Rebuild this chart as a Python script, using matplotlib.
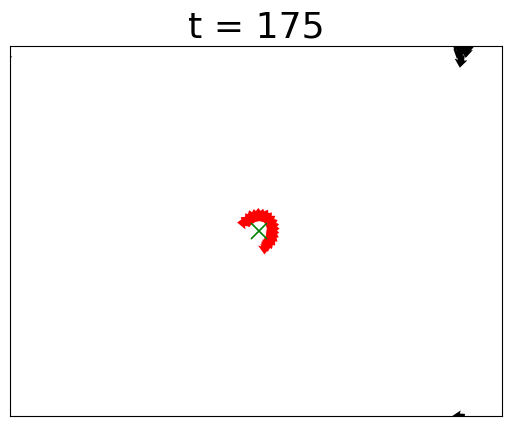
import numpy as np
import matplotlib.pyplot as plt

# frame number shown in the title
t = 175

# target position (green cross)
target_x = 50.6
target_y = 37.5

# red agents circling the target: angle (deg) around target, distance, heading (deg)
red_angle = [152, 142, 130, 118, 106, 94, 82, 70, 58, 46, 34, 22, 10, -2, -14, -26, -38, -50, -62, -72]
red_dist = [3.6, 3.4, 3.3, 3.4, 3.3, 3.4, 3.3, 3.4, 3.3, 3.2, 3.1, 3.0, 2.9, 2.8, 2.9, 3.0, 3.1, 3.2, 3.3, 3.6]
red_heading = [178, 145, 122, 110, 98, 86, 74, 62, 50, 38, 24, 12, 0, -12, -26, -38, -52, -66, -80, -92]

# black agents near the borders (arrow tip positions)
black_x = [91.4, 90.8, 90.3, 91.6, 92.6, 93.4, 92.2, 94.0, 89.8]
black_y = [70.6, 72.4, 74.0, 73.2, 72.6, 73.8, 74.8, 75.0, 0.0]
black_heading = [-98, -108, -115, -100, -95, -92, -100, -85, 176]

# stray agent on the left border (arrow tip position)
left_x = [0.4]
left_y = [72.8]
left_heading = [0]

arrow_len = 2.6


def headings_to_uv(heading):
    h = np.radians(heading)
    return arrow_len * np.cos(h), arrow_len * np.sin(h)


fig, ax = plt.subplots(figsize=(5.15, 4.26), dpi=100)
fig.subplots_adjust(left=0.02, right=0.975, bottom=0.023, top=0.892)

ra = np.radians(red_angle)
rx = target_x + np.array(red_dist) * np.cos(ra)
ry = target_y + np.array(red_dist) * np.sin(ra)
ru, rv = headings_to_uv(red_heading)
ax.quiver(rx, ry, ru, rv, color="red", angles="xy", scale_units="xy", scale=1,
          units="xy", width=1.35, headwidth=2, headlength=1.3, headaxislength=1.2, pivot="middle")

bu, bv = headings_to_uv(black_heading)
ax.quiver(black_x, black_y, bu, bv, color="black", angles="xy", scale_units="xy", scale=1,
          units="xy", width=1.3, headwidth=2, headlength=1.3, headaxislength=1.2, pivot="tip")

lu, lv = headings_to_uv(left_heading)
ax.quiver(left_x, left_y, lu, lv, color="black", angles="xy", scale_units="xy", scale=1,
          units="xy", width=0.5, headwidth=2, headlength=2, headaxislength=2, pivot="tip")

ax.plot(target_x, target_y, "x", color="green", markersize=12, markeredgewidth=1.2)

ax.set_xlim(0, 100)
ax.set_ylim(0, 75)
ax.set_xticks([])
ax.set_yticks([])
ax.set_title("t = %d" % t, fontsize=26)

plt.savefig("out.png")
